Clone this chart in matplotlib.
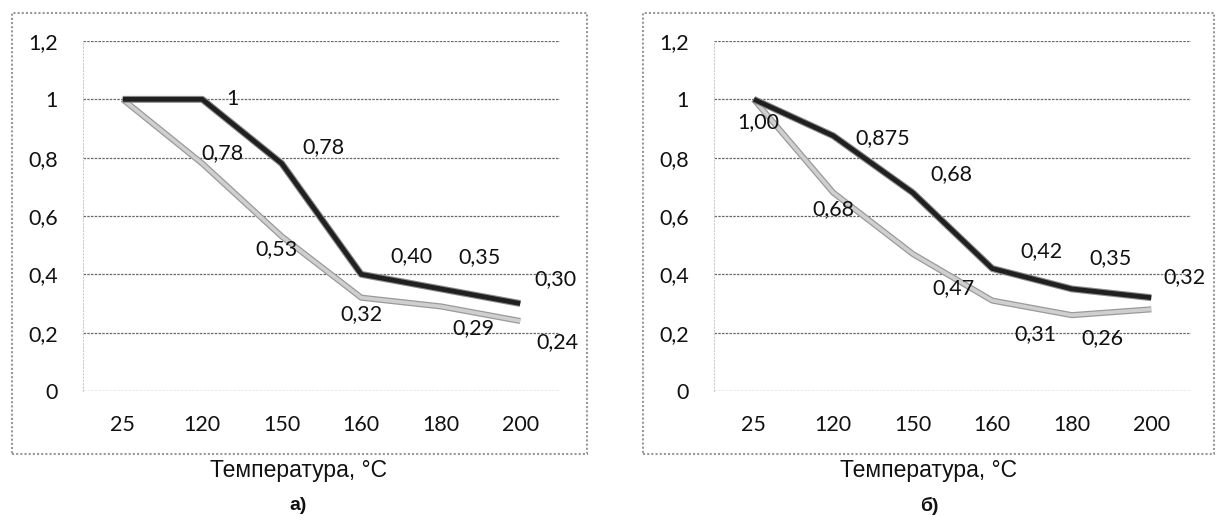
import matplotlib
matplotlib.use("Agg")
import matplotlib.pyplot as plt
from matplotlib.patches import Rectangle

# категории (температура)
temps = ['25', '120', '150', '160', '180', '200']

# а)
a_dark = [1.0, 1.0, 0.78, 0.40, 0.35, 0.30]
a_light = [1.0, 0.78, 0.53, 0.32, 0.29, 0.24]
a_dark_lbl = [None, '1', '0,78', '0,40', '0,35', '0,30']
a_light_lbl = [None, '0,78', '0,53', '0,32', '0,29', '0,24']

# б)
b_dark = [1.0, 0.875, 0.68, 0.42, 0.35, 0.32]
b_light = [1.0, 0.68, 0.47, 0.31, 0.26, 0.28]
b_dark_lbl = [None, '0,875', '0,68', '0,42', '0,35', '0,32']
b_light_lbl = ['1,00', '0,68', '0,47', '0,31', '0,26', None]

yticks = [0, 0.2, 0.4, 0.6, 0.8, 1.0, 1.2]
ytick_lbl = ['0', '0,2', '0,4', '0,6', '0,8', '1', '1,2']

# смещения подписей (пиксели)
a_dark_off = [None, (30, 0), (42, 16), (50, 18), (39, 32), (35, 24)]
a_light_off = [None, (20, 10), (-5, -13), (0, -16), (33, -22), (37, -21)]
b_dark_off = [None, (49, -2), (39, 19), (49, 17), (39, 31), (33, 21)]
b_light_off = [(5, -23), (0, -16), (41, -34), (43, -34), (31, -23), None]

W, H = 1217, 523
fig = plt.figure(figsize=(W / 100, H / 100), dpi=100)
tick_font = 'Lato'
fs = 15.5


def draw(x0, x1, dark, light, dlbl, llbl, doff, loff, frame, cx, letter):
    ax = fig.add_axes([x0 / W, (H - 391) / H, (x1 - x0) / W, 350 / H])
    x = list(range(len(temps)))
    for y in yticks:
        ax.axhline(y, color='#6a6a6a', lw=0.9, ls=(0, (2, 1)), zorder=1)
    ax.plot(x, light, color='#9a9a9a', lw=4.4, zorder=2, solid_capstyle='butt')
    ax.plot(x, light, color='#cfcfcf', lw=2.6, zorder=3, solid_capstyle='butt')
    ax.plot(x, dark, color='#8a8a8a', lw=5.0, zorder=4, solid_capstyle='butt')
    ax.plot(x, dark, color='#202020', lw=3.4, zorder=5, solid_capstyle='butt')
    for i in x:
        if dlbl[i]:
            ax.annotate(dlbl[i], (i, dark[i]), xytext=doff[i], textcoords='offset pixels',
                        ha='center', va='center', fontsize=fs, family=tick_font,
                        color='#111111', zorder=6)
        if llbl[i]:
            ax.annotate(llbl[i], (i, light[i]), xytext=loff[i], textcoords='offset pixels',
                        ha='center', va='center', fontsize=fs, family=tick_font,
                        color='#111111', zorder=6)
    ax.set_xlim(-0.5, len(temps) - 0.5)
    ax.set_ylim(0, 1.2)
    ax.set_xticks(x)
    ax.set_xticklabels(temps, family=tick_font, fontsize=fs, color='#111111')
    ax.set_yticks(yticks)
    ax.set_yticklabels(ytick_lbl, family=tick_font, fontsize=fs, color='#111111')
    ax.tick_params(length=0)
    ax.tick_params(axis='x', pad=17)
    ax.tick_params(axis='y', pad=18)
    for s in ['top', 'right', 'bottom']:
        ax.spines[s].set_visible(False)
    ax.spines['left'].set_color('#cccccc')
    ax.spines['left'].set_linestyle((0, (1, 2)))
    fx0, fy0, fx1, fy1 = frame
    fig.patches.append(Rectangle((fx0 / W, (H - fy1) / H), (fx1 - fx0) / W, (fy1 - fy0) / H,
                                 transform=fig.transFigure, fill=False,
                                 edgecolor='#999999', lw=1.5, ls=(0, (1, 1))))
    fig.text(cx / W, 1 - 471 / H, 'Температура, °C', ha='center', va='center',
             family='Liberation Sans', fontsize=16.5, color='#111111')
    fig.text(cx / W, 1 - 506 / H, letter, ha='center', va='center',
             family='Liberation Sans', fontsize=14, fontweight='bold', color='#111111')


draw(83, 560, a_dark, a_light, a_dark_lbl, a_light_lbl, a_dark_off, a_light_off,
     (12, 13, 587, 454), 298, 'а)')
draw(714, 1191, b_dark, b_light, b_dark_lbl, b_light_lbl, b_dark_off, b_light_off,
     (643, 13, 1214, 454), 929, 'б)')

fig.savefig('out.png', dpi=100)
